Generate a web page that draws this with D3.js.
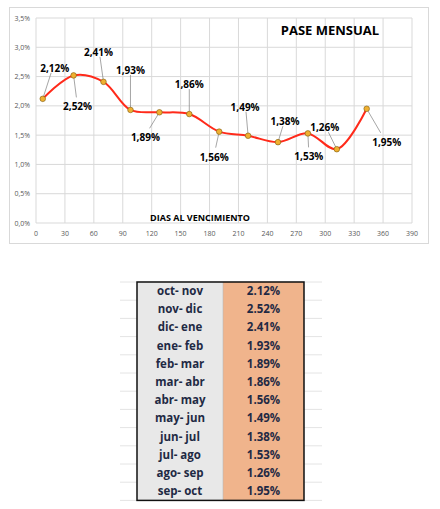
<!DOCTYPE html>
<html><head><meta charset="utf-8">
<script src="https://cdn.jsdelivr.net/npm/d3@7"></script>
<style>body{margin:0;background:#fff}text{font-family:"Open Sans",sans-serif}</style>
</head><body><svg id="c" width="440" height="509"></svg>
<script>
// data
var days = [7, 39, 70, 98, 128, 159, 190, 220, 251, 282, 312, 343]
var pase = [2.12, 2.52, 2.41, 1.93, 1.89, 1.86, 1.56, 1.49, 1.38, 1.53, 1.26, 1.95]
var periods = ['oct- nov', 'nov- dic', 'dic- ene', 'ene- feb', 'feb- mar', 'mar- abr',
  'abr- may', 'may- jun', 'jun- jul', 'jul- ago', 'ago- sep', 'sep- oct']
var xTicks = d3.range(0, 391, 30)
var yTicks = d3.range(0, 3.51, 0.5)
// label offsets (px) from each point
var lblDx = [12, 4, -5, 0, -14, 0, -5, -3, 7, 1, -12, 20]
var lblDy = [-31, 31, -30, -40, 25, -30, 25, -29, -21, 23, -22, 33]

var svg = d3.select('#c')
var fmt = function (v) { return v.toFixed(2).replace('.', ',') + '%' }

svg.append('rect').attr('x', 9.5).attr('y', 7.5).attr('width', 419).attr('height', 236)
  .attr('fill', '#fff').attr('stroke', '#d9d9d9')

var x = d3.scaleLinear().domain([0, 390]).range([36, 412])
var y = d3.scaleLinear().domain([0, 3.5]).range([223, 18])

var g = svg.append('g')
g.selectAll('.gx').data(xTicks).enter().append('line')
  .attr('x1', x).attr('x2', x).attr('y1', y(0)).attr('y2', y(3.5)).attr('stroke', '#d9d9d9')
g.selectAll('.gy').data(yTicks).enter().append('line')
  .attr('x1', x(0)).attr('x2', x(390)).attr('y1', y).attr('y2', y).attr('stroke', '#d9d9d9')

g.selectAll('.tx').data(xTicks).enter().append('text')
  .attr('x', x).attr('y', y(0) + 13).attr('text-anchor', 'middle')
  .attr('font-size', 7).attr('fill', '#595959').text(function (d) { return d })
g.selectAll('.ty').data(yTicks).enter().append('text')
  .attr('x', x(0) - 6).attr('y', function (d) { return y(d) + 2.5 }).attr('text-anchor', 'end')
  .attr('font-size', 7).attr('fill', '#595959').text(function (d) { return d.toFixed(1).replace('.', ',') + '%' })

svg.append('text').attr('x', 330).attr('y', 35).attr('text-anchor', 'middle')
  .attr('font-size', 13).attr('font-weight', 'bold').text('PASE MENSUAL')
svg.append('text').attr('x', 200).attr('y', 221).attr('text-anchor', 'middle')
  .attr('font-size', 9).attr('font-weight', 'bold').text('DIAS AL VENCIMIENTO')

var pts = days.map(function (d, i) { return [x(d), y(pase[i])] })
var line = d3.line().curve(d3.curveCatmullRom.alpha(0.5))
svg.append('path').attr('d', line(pts)).attr('fill', 'none').attr('stroke', '#ff2a1a').attr('stroke-width', 2)

pts.forEach(function (p, i) {
  var lx = p[0] + lblDx[i], ly = p[1] + lblDy[i]
  var ey = lblDy[i] < 0 ? ly + 5 : ly - 9
  svg.append('line').attr('x1', p[0]).attr('y1', p[1]).attr('x2', lx - lblDx[i] * 0.3).attr('y2', ey)
    .attr('stroke', '#7f7f7f').attr('stroke-width', 0.7)
})
pts.forEach(function (p, i) {
  svg.append('circle').attr('cx', p[0]).attr('cy', p[1]).attr('r', 2.8)
    .attr('fill', '#f0b030').attr('stroke', '#7a5a10').attr('stroke-width', 0.6)
  svg.append('text').attr('x', p[0] + lblDx[i]).attr('y', p[1] + lblDy[i] + 4)
    .attr('text-anchor', 'middle').attr('font-size', 10).attr('font-weight', 'bold').text(fmt(pase[i]))
})

// table
var tx0 = 137, tx1 = 223, tx2 = 304, ty0 = 282, rh = 18.2
var rows = svg.append('g')
for (var k = 0; k < 13; k++) {
  rows.append('line').attr('x1', 120).attr('x2', 322).attr('y1', ty0 + k * rh).attr('y2', ty0 + k * rh)
    .attr('stroke', '#e4e4e4')
}
rows.append('rect').attr('x', tx0).attr('y', ty0).attr('width', tx1 - tx0).attr('height', rh * 12).attr('fill', '#e8e8e8')
rows.append('rect').attr('x', tx1).attr('y', ty0).attr('width', tx2 - tx1).attr('height', rh * 12).attr('fill', '#f0b48c')
rows.append('line').attr('x1', tx1).attr('x2', tx1).attr('y1', ty0).attr('y2', ty0 + rh * 12).attr('stroke', '#bbb').attr('stroke-width', 0.6)
rows.append('rect').attr('x', tx0).attr('y', ty0).attr('width', tx2 - tx0).attr('height', rh * 12)
  .attr('fill', 'none').attr('stroke', '#111').attr('stroke-width', 1.5)
rows.selectAll('.p').data(periods).enter().append('text')
  .attr('x', (tx0 + tx1) / 2).attr('y', function (d, i) { return ty0 + i * rh + 13 })
  .attr('text-anchor', 'middle').attr('font-size', 11.5).attr('font-weight', 'bold').attr('fill', '#1f2a44').text(function (d) { return d })
rows.selectAll('.v').data(pase).enter().append('text')
  .attr('x', (tx1 + tx2) / 2).attr('y', function (d, i) { return ty0 + i * rh + 13 })
  .attr('text-anchor', 'middle').attr('font-size', 11.5).attr('font-weight', 'bold').attr('fill', '#1f2a44').text(function (d) { return d.toFixed(2) + '%' })
</script></body></html>
